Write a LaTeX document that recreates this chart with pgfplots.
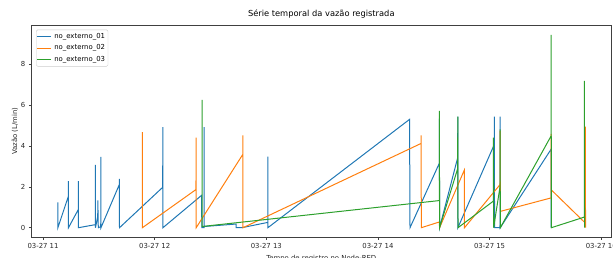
\documentclass[border=0pt]{standalone}
\usepackage{fontspec}
\setmainfont{DejaVu Sans}
\usepackage{pgfplots}
\pgfplotsset{compat=1.18}
\definecolor{mplblue}{HTML}{1F77B4}
\definecolor{mplorange}{HTML}{FF7F0E}
\definecolor{mplgreen}{HTML}{2CA02C}
\newcommand{\tf}{\fontsize{6.9bp}{8.3bp}\selectfont}
\begin{document}
\begin{tikzpicture}
\begin{axis}[
  scale only axis, width=580bp, height=212bp,
  at={(0,0)}, anchor=south west,
  xmin=10.895, xmax=16.09, ymin=-0.47, ymax=9.92,
  xtick={11,12,13,14,15,16},
  xticklabels={03-27 11,03-27 12,03-27 13,03-27 14,03-27 15,03-27 16},
  ytick={0,2,4,6,8}, yticklabels={0,2,4,6,8},
  /pgf/number format/assume math mode=true,
  tick align=outside, xtick pos=bottom, ytick pos=left,
  major tick length=2.4bp,
  tick style={black!75, line width=0.55bp},
  axis line style={black!75, line width=0.55bp},
  ticklabel style={font=\tf, text=black!85},
  title={Série temporal da vazão registrada},
  title style={font=\fontsize{8.3bp}{10bp}\selectfont, at={(0.5,1)}, anchor=base, yshift=3.3bp, inner sep=0pt},
  xlabel={Tempo de registro no Node-RED},
  ylabel={Vazão (L/min)},
  label style={font=\tf, text=black!85},
  xlabel style={at={(axis description cs:0.5,-0.0835)}, anchor=north, inner sep=0pt},
  ylabel style={at={(axis description cs:-0.0283,0.5)}, anchor=center, inner sep=0pt},
  legend style={at={(0,1)}, anchor=north west, xshift=4.7bp, yshift=-4.3bp,
    draw=black!20, rounded corners=1.5bp, fill=white, font=\tf,
    inner xsep=0.2bp, inner ysep=1.5bp, row sep=1.6bp,
    nodes={inner xsep=2.8bp, inner ysep=1.7bp, text height=5.2bp, text depth=1.5bp}},
  legend cell align=left,
  legend image code/.code={\draw[#1] (0bp,0bp) -- (14bp,0bp);},
]
\addlegendimage{draw=mplblue, line width=1.1bp}
\addlegendentry{no\_externo\_01}
\addlegendimage{draw=mplorange, line width=1.1bp}
\addlegendentry{no\_externo\_02}
\addlegendimage{draw=mplgreen, line width=1.1bp}
\addlegendentry{no\_externo\_03}
\addplot[draw=mplblue, line width=1bp, forget plot] coordinates {
(11.132,1.24) (11.133,0) (11.227,1.54) (11.227,2.28) (11.228,0)
(11.316,0.89) (11.316,2.28) (11.317,0) (11.469,0.15) (11.469,3.08) (11.470,0)
(11.490,0.56) (11.491,1.34) (11.495,0) (11.517,0.05) (11.518,3.47) (11.519,0)
(11.683,2.11) (11.684,2.39) (11.685,0) (12.072,1.98) (12.073,4.93) (12.074,0)
(12.421,1.59) (12.422,0) (12.442,0) (12.443,4.93) (12.444,0.06)
(12.729,0.18) (12.730,0) (12.780,0) (13.013,0.26) (13.013,3.48) (13.014,0)
(14.283,5.31) (14.287,0) (14.549,3.15) (14.550,5.35) (14.552,0)
(14.714,3.43) (14.715,5.44) (14.716,0) (15.042,4.08) (15.043,5.44) (15.044,0)
(15.093,0) (15.094,5.44) (15.095,0) (15.550,3.84) (15.551,0)
};
\addplot[draw=mplorange, line width=1bp, forget plot] coordinates {
(11.889,4.69) (11.890,0) (12.370,1.87) (12.371,4.41) (12.372,0)
(12.789,3.59) (12.790,4.52) (12.791,0) (14.386,4.13) (14.387,4.52) (14.388,0)
(14.549,0.28) (14.552,0) (14.773,2.82) (14.775,0)
(15.093,2.11) (15.094,4.75) (15.096,0.80) (15.550,1.46) (15.551,4.60) (15.553,1.85)
(15.857,0.23) (15.858,4.95) (15.859,0)
};
\addplot[draw=mplgreen, line width=1bp, forget plot] coordinates {
(12.424,6.26) (12.425,0.06) (14.549,1.33) (14.550,5.72) (14.552,0)
(14.714,2.90) (14.715,5.44) (14.717,0) (15.033,1.30) (15.034,4.41) (15.036,0)
(15.093,2.00) (15.094,4.82) (15.096,0) (15.550,4.49) (15.551,9.45) (15.553,0)
(15.848,0.52) (15.849,7.20) (15.850,0)
};
\end{axis}
\pgfresetboundingbox
\useasboundingbox (-31.3bp,-20.7bp) rectangle (581.7bp,237.3bp);
\end{tikzpicture}
\end{document}
